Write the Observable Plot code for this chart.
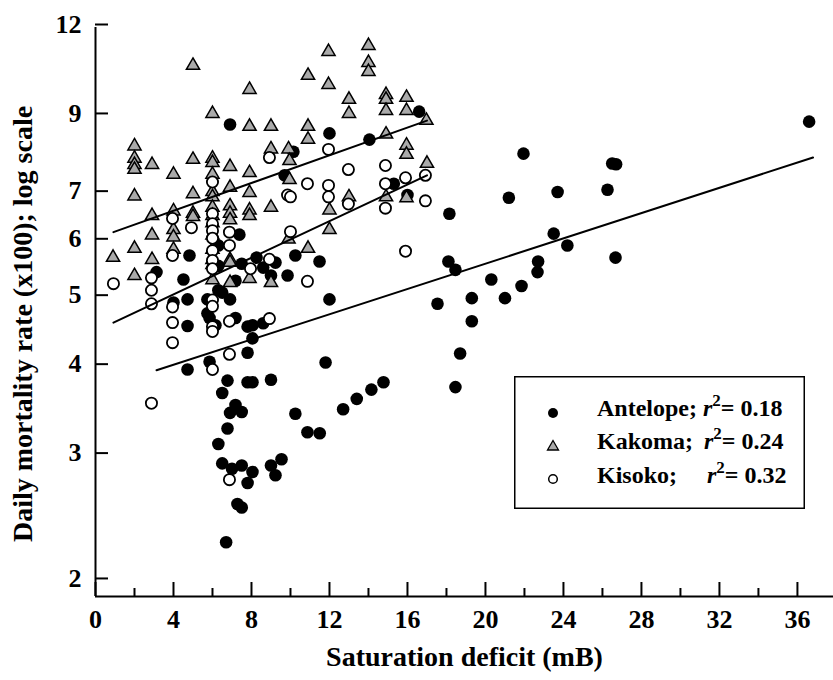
<!DOCTYPE html>
<html>
<head>
<meta charset="utf-8">
<script src="https://cdn.jsdelivr.net/npm/d3@7"></script>
<script src="https://cdn.jsdelivr.net/npm/@observablehq/plot@0.6"></script>
<style>
html, body { margin: 0; padding: 0; background: #fff; }
#wrap { position: relative; width: 833px; height: 680px; }
#legend { position: absolute; left: 514px; top: 376px; }
</style>
</head>
<body>
<div id="wrap"></div>
<script>
// ---------- data ----------
const antelopeX = [4.82,3.13,4.51,4.72,4.0,4.72,6.3,6.3,7.38,7.5,8.26,8.6,9.23,9.0,9.85,6.3,6.5,6.9,5.74,5.74,5.85,6.15,7.18,7.8,8.05,8.6,8.05,7.8,4.72,5.85,6.77,7.8,8.05,9.0,6.5,7.18,7.5,6.9,6.77,6.3,6.5,7.0,7.5,8.05,7.8,7.28,7.5,6.7,9.0,9.54,9.23,6.9,16.6,12.0,14.05,10.15,9.7,15.3,16.0,18.15,18.1,18.46,17.54,18.7,18.46,10.25,11.49,12.0,11.8,13.4,14.15,14.77,10.25,10.87,11.5,12.7,36.6,21.95,26.5,26.7,21.2,23.7,26.26,23.5,24.2,26.67,20.3,19.3,21.0,21.85,22.7,22.67,19.3,7.18];
const antelopeY = [5.74,5.44,5.31,4.98,4.93,4.57,5.93,5.55,6.14,5.59,5.70,5.52,5.61,5.38,5.38,5.13,5.09,4.98,4.98,4.76,4.69,4.58,4.69,4.56,4.58,4.61,4.39,4.19,3.97,4.07,3.83,3.81,3.81,3.84,3.68,3.54,3.46,3.45,3.28,3.12,2.93,2.88,2.91,2.85,2.75,2.57,2.54,2.27,2.91,2.97,2.82,8.77,9.14,8.52,8.35,8.03,7.44,7.24,6.98,6.57,5.63,5.48,4.91,4.18,3.75,5.74,5.63,4.98,4.06,3.61,3.72,3.81,3.44,3.24,3.23,3.49,8.85,7.98,7.73,7.71,6.92,7.05,7.10,6.16,5.93,5.70,5.31,5.0,5.0,5.20,5.63,5.44,4.64,5.29];

const kakomaX = [5.0,7.9,6.0,7.9,9.0,2.0,2.0,2.0,2.0,2.9,4.0,5.0,6.0,6.0,6.0,6.9,7.9,9.0,9.9,9.95,2.0,5.0,6.0,6.0,6.9,7.9,9.0,2.9,4.0,5.0,5.0,6.0,6.0,6.9,6.9,6.9,7.9,7.9,2.9,4.0,4.0,4.0,0.9,2.0,2.9,2.0,6.0,6.0,6.0,6.0,6.0,6.0,6.9,6.9,6.9,7.9,9.0,9.9,10.9,12.0,12.0,11.95,11.95,14.0,14.0,14.0,10.9,13.0,13.0,14.9,14.9,14.9,15.95,15.95,16.97,10.9,10.9,14.9,15.95,15.95,17.0,9.95,13.0,14.9,15.95];
const kakomaY = [10.68,9.88,9.14,8.77,8.77,8.23,7.91,7.75,7.63,7.75,7.51,7.88,7.91,7.80,7.51,7.70,7.55,8.15,8.15,7.85,7.0,7.05,7.10,6.98,7.20,7.08,6.75,6.57,6.67,6.62,6.55,6.75,6.57,6.78,6.62,6.48,6.69,6.57,6.17,6.28,6.13,5.89,5.74,5.91,5.70,5.41,6.42,6.17,5.89,5.70,5.61,5.34,5.70,5.65,5.29,5.36,5.29,6.09,5.91,6.28,6.69,10.04,11.17,11.39,10.78,10.47,10.34,9.57,9.14,9.72,9.57,9.23,9.63,9.23,8.94,8.77,8.41,8.55,8.25,8.01,7.78,7.38,6.98,6.98,6.96];

const kisokoX = [8.92,6.0,3.95,6.0,9.85,4.92,3.95,2.87,2.87,2.87,0.92,3.95,3.95,3.95,6.0,6.0,6.0,6.0,6.0,6.0,6.0,6.0,6.0,6.0,6.87,6.87,6.87,7.95,8.92,8.92,6.87,6.0,2.87,6.87,10.0,10.87,11.95,11.95,11.95,12.97,12.97,14.87,14.87,14.87,15.9,16.92,16.92,10.0,15.9,10.87];
const kisokoY = [7.88,7.28,6.47,6.57,6.98,6.28,5.74,5.34,5.13,4.91,5.24,4.86,4.62,4.33,6.36,6.22,6.07,5.83,5.65,5.50,4.97,4.87,4.56,4.49,6.19,5.93,4.64,5.50,5.67,4.68,4.17,3.97,3.56,2.78,6.94,7.24,8.09,7.20,6.94,6.78,7.58,7.68,7.24,6.69,7.38,7.44,6.85,6.20,5.82,5.28];

// fitted lines (end points)
const trendSeries = ["Antelope", "Antelope", "Kakoma", "Kakoma", "Kisoko", "Kisoko"];
const trendX = [3.13, 36.8, 0.92, 17.0, 0.92, 17.0];
const trendY = [3.96, 7.88, 6.19, 8.88, 4.62, 7.44];

// axes
const xDomain = [0, 37.85];
const yDomain = [1.905, 12];
const xMajorTicks = [0, 4, 8, 12, 16, 20, 24, 28, 32, 36];
const xMinorTicks = [2, 6, 10, 14, 18, 22, 26, 30, 34];
const yTickValues = [2, 3, 4, 5, 6, 7, 9, 12];
const xTitle = "Saturation deficit (mB)";
const yTitle = "Daily mortality rate (x100); log scale";

// legend
const legendNames = ["Antelope;", "Kakoma;", "Kisoko;"];
const legendR2 = ["0.18", "0.24", "0.32"];

// ---------- build ----------
const rows = (xs, ys) => xs.map((x, i) => ({x, y: ys[i]}));
const antelope = rows(antelopeX, antelopeY);
const kakoma = rows(kakomaX, kakomaY);
const kisoko = rows(kisokoX, kisokoY);
const trends = trendX.map((x, i) => ({series: trendSeries[i], x, y: trendY[i]}));

const serif = "'Liberation Serif', 'Times New Roman', Times, serif";

const chart = Plot.plot({
  width: 833,
  height: 680,
  marginLeft: 95,
  marginRight: 0,
  marginTop: 27,
  marginBottom: 84,
  style: {fontFamily: serif, background: "white", color: "black", overflow: "visible"},
  x: {domain: xDomain},
  y: {type: "log", domain: yDomain},
  marks: [
    Plot.dot(antelope, {x: "x", y: "y", r: 6.3, fill: "black", stroke: "none"}),
    Plot.dot(kakoma, {x: "x", y: "y", symbol: "triangle", r: 4.9, dy: 2, fill: "#aaaaaa", stroke: "black", strokeWidth: 1.5}),
    Plot.dot(kisoko, {x: "x", y: "y", r: 5.6, fill: "white", stroke: "black", strokeWidth: 1.8}),
    Plot.line(trends, {x: "x", y: "y", z: "series", stroke: "black", strokeWidth: 2}),
    Plot.axisX({ticks: xMajorTicks, tickSize: -14, tickPadding: 27, strokeWidth: 2, fontSize: 26, fontWeight: "bold", label: null, tickFormat: d => String(d)}),
    Plot.axisX({ticks: xMinorTicks, tickSize: -8, tickPadding: 0, strokeWidth: 2, label: null, tickFormat: () => ""}),
    Plot.axisY({ticks: yTickValues, tickSize: -13, tickPadding: 27, strokeWidth: 2, fontSize: 26, fontWeight: "bold", label: null, dy: -3, tickFormat: d => String(d)}),
    Plot.ruleY([yDomain[0]], {strokeWidth: 2}),
    Plot.ruleX([xDomain[0]], {strokeWidth: 2}),
    Plot.text([xTitle], {frameAnchor: "bottom", textAnchor: "middle", dy: 69, fontSize: 28, fontWeight: "bold"}),
    Plot.text([yTitle], {frameAnchor: "left", textAnchor: "middle", rotate: -90, dx: -72, dy: 12, fontSize: 28, fontWeight: "bold"})
  ]
});

const wrap = document.getElementById("wrap");
wrap.appendChild(chart);

// legend overlay
const leg = d3.create("svg").attr("id", "legend").attr("width", 291).attr("height", 133)
  .style("font-family", serif);
leg.append("rect").attr("x", 0.75).attr("y", 0.75).attr("width", 289.5).attr("height", 131.5)
  .attr("fill", "white").attr("stroke", "black").attr("stroke-width", 1.5);
const markY = [37, 70, 103];
const baseY = [40, 73, 107];
const rX = [189, 190, 193];
leg.append("circle").attr("cx", 39).attr("cy", markY[0]).attr("r", 5).attr("fill", "black");
leg.append("path").attr("d", `M39,${markY[1]-5.5}L44.5,${markY[1]+4}L33.5,${markY[1]+4}Z`)
  .attr("fill", "#aaaaaa").attr("stroke", "black").attr("stroke-width", 1.3);
leg.append("circle").attr("cx", 39).attr("cy", markY[2]).attr("r", 4.3).attr("fill", "white")
  .attr("stroke", "black").attr("stroke-width", 1.5);
legendNames.forEach((name, i) => {
  leg.append("text").attr("x", 83).attr("y", baseY[i]).attr("font-size", 24).attr("font-weight", "bold").text(name);
  const t = leg.append("text").attr("x", rX[i]).attr("y", baseY[i]).attr("font-size", 24).attr("font-weight", "bold");
  t.append("tspan").attr("font-style", "italic").text("r");
  t.append("tspan").attr("dy", -10).attr("font-size", 17).text("2");
  t.append("tspan").attr("dy", 10).text("= " + legendR2[i]);
});
wrap.appendChild(leg.node());
</script>
</body>
</html>
